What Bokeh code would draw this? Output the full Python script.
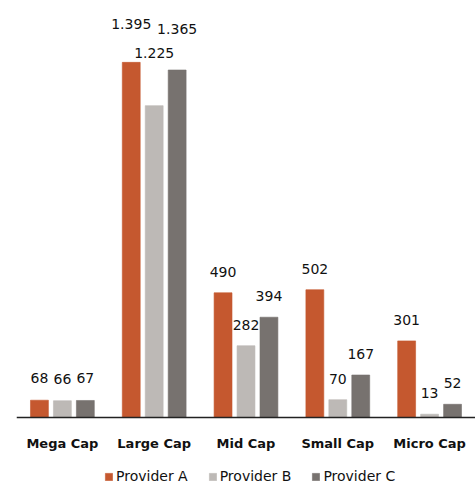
from bokeh.plotting import figure
from bokeh.models import ColumnDataSource, Legend, LegendItem
from bokeh.transform import dodge
from bokeh.embed import file_html
from bokeh.resources import INLINE
from bokeh.core.properties import value

categories = ["Mega Cap", "Large Cap", "Mid Cap", "Small Cap", "Micro Cap"]
providers = ["Provider A", "Provider B", "Provider C"]
provider_a = [68, 1395, 490, 502, 301]
provider_b = [66, 1225, 282, 70, 13]
provider_c = [67, 1365, 394, 167, 52]

colors = ["#C5582F", "#BDB9B6", "#77726F"]
offsets = [-0.25, 0.0, 0.25]
# label vertical offsets in screen px (Large Cap labels were moved up in the original)
label_offsets = [
    [-22, -38, -21, -21, -21],
    [-22, -53, -21, -21, -21],
    [-22, -41, -21, -21, -21],
]

FONT = "DejaVu Sans"

src = ColumnDataSource(dict(cat=categories, a=provider_a, b=provider_b, c=provider_c))

p = figure(x_range=categories, y_range=(-263, 1638), width=475, height=484,
           output_backend="svg", toolbar_location=None, tools="")
p.min_border_left = 16
p.min_border_right = 0
p.min_border_top = 0
p.min_border_bottom = 0
p.outline_line_color = None
p.xgrid.grid_line_color = None
p.ygrid.grid_line_color = None
p.yaxis.visible = False
p.background_fill_color = "white"
p.border_fill_color = "white"

renderers = []
for key, col, off, series, loffs in zip(["a", "b", "c"], colors, offsets,
                                        [provider_a, provider_b, provider_c], label_offsets):
    r = p.vbar(x=dodge("cat", off, range=p.x_range), top=key, bottom=0, width=0.195, source=src,
               fill_color=col, line_color=col, line_alpha=0.6)
    renderers.append(r)
    lsrc = ColumnDataSource(dict(cat=categories, y=series,
                                 txt=[f"{v:,}".replace(",", ".") for v in series],
                                 yo=loffs))
    p.text(x=dodge("cat", off, range=p.x_range), y="y", text="txt", y_offset="yo",
           source=lsrc, text_align="center", text_baseline="middle",
           text_font=value(FONT), text_font_size="14px", text_color="#111111")

ax = p.xaxis[0]
ax.fixed_location = 0
ax.axis_line_color = "#222222"
ax.axis_line_width = 1.5
ax.major_tick_line_color = None
ax.minor_tick_line_color = None
ax.major_label_text_font = FONT
ax.major_label_text_font_style = "bold"
ax.major_label_text_font_size = "13px"
ax.major_label_text_color = "#111111"
ax.major_label_standoff = 12

legend = Legend(items=[LegendItem(label=n, renderers=[r]) for n, r in zip(providers, renderers)],
                orientation="horizontal", location=(88, 0))
legend.label_text_font = FONT
legend.label_text_font_size = "14px"
legend.label_text_color = "#111111"
legend.glyph_width = 9
legend.glyph_height = 9
legend.label_height = 14
legend.label_standoff = 3
legend.spacing = 20
legend.padding = 0
legend.margin = 0
legend.border_line_color = None
legend.background_fill_alpha = 0
p.add_layout(legend, "center")

open("out.html", "w").write(file_html(p, INLINE))
